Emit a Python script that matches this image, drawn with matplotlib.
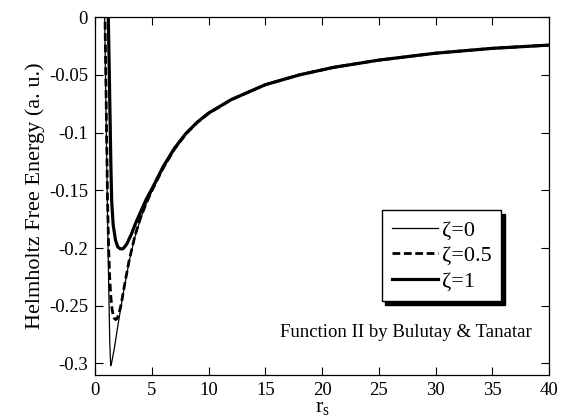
import matplotlib
matplotlib.use("Agg")
import matplotlib.pyplot as plt

plt.rcParams["font.family"] = ["Liberation Serif", "DejaVu Serif"]
plt.rcParams["mathtext.fontset"] = "custom"
plt.rcParams["mathtext.rm"] = "Liberation Serif"
plt.rcParams["axes.unicode_minus"] = False

# values (rs, free energy in a.u.)
rs_z0 = [0.80, 0.85, 0.90, 0.95, 1.00, 1.10, 1.20, 1.30, 1.38, 1.45, 1.55, 1.70,
         2.00, 2.30, 2.60, 3.00, 3.50, 4.00, 4.50, 5.00, 6.00, 7.00, 8.00, 9.00,
         10.0, 12.0, 15.0, 18.0, 21.0, 25.0, 30.0, 35.0, 40.0]
f_z0 = [0.040, 0.000, -0.035, -0.070, -0.105, -0.170, -0.230, -0.282, -0.302,
        -0.300, -0.295, -0.287, -0.268, -0.250, -0.233, -0.212, -0.191, -0.175,
        -0.162, -0.151, -0.131, -0.1145, -0.1015, -0.0915, -0.0835, -0.0715,
        -0.0585, -0.0500, -0.0435, -0.0372, -0.0312, -0.0270, -0.0242]

rs_z05 = [0.83, 0.88, 0.95, 1.00, 1.10, 1.20, 1.30, 1.40, 1.50, 1.60, 1.70, 1.82,
          1.95, 2.10, 2.30, 2.60, 3.00, 3.50, 4.00, 4.50, 5.00, 6.00, 7.00, 8.00,
          9.00, 10.0, 12.0, 15.0, 18.0, 21.0, 25.0, 30.0, 35.0, 40.0]
f_z05 = [0.040, 0.000, -0.050, -0.085, -0.158, -0.200, -0.227, -0.243, -0.253,
         -0.258, -0.261, -0.262, -0.261, -0.257, -0.249, -0.232, -0.211, -0.190,
         -0.174, -0.1615, -0.1505, -0.1308, -0.1143, -0.1013, -0.0913, -0.0834,
         -0.0715, -0.0585, -0.0500, -0.0435, -0.0372, -0.0312, -0.0270, -0.0242]

rs_z1 = [1.12, 1.17, 1.25, 1.33, 1.40, 1.47, 1.60, 1.80, 2.00, 2.20, 2.35, 2.50,
         2.80, 3.20, 3.60, 4.00, 4.50, 5.00, 6.00, 7.00, 8.00, 9.00, 10.0, 12.0,
         15.0, 18.0, 21.0, 25.0, 30.0, 35.0, 40.0]
f_z1 = [0.030, 0.000, -0.045, -0.090, -0.130, -0.160, -0.180, -0.193, -0.199,
        -0.2005, -0.2008, -0.2003, -0.1965, -0.188, -0.178, -0.169, -0.158,
        -0.149, -0.1295, -0.1135, -0.1008, -0.0910, -0.0831, -0.0714, -0.0585,
        -0.0500, -0.0435, -0.0372, -0.0312, -0.0270, -0.0242]

xticks = [0, 5, 10, 15, 20, 25, 30, 35, 40]
yticks = [0, -0.05, -0.1, -0.15, -0.2, -0.25, -0.3]
ytick_labels = ["0", "-0.05", "-0.1", "-0.15", "-0.2", "-0.25", "-0.3"]

fig = plt.figure(figsize=(5.69, 4.19), dpi=100)
ax = fig.add_axes([0.167, 0.105, 0.798, 0.854])

ax.plot(rs_z0, f_z0, color="black", lw=0.9, label="ζ=0")
ax.plot(rs_z05, f_z05, color="black", lw=2.0, dashes=(2.8, 1.3), label="ζ=0.5")
ax.plot(rs_z1, f_z1, color="black", lw=2.3, label="ζ=1")

ax.set_xlim(0, 40)
ax.set_ylim(-0.31, 0)
ax.set_xticks(xticks)
ax.set_xticklabels([str(v) for v in xticks])
ax.set_yticks(yticks)
ax.set_yticklabels(ytick_labels)
ax.tick_params(direction="in", length=6, width=0.8, top=True, right=True,
               labelsize=13.5, pad=5)
for s in ax.spines.values():
    s.set_linewidth(0.9)

ax.set_xlabel(r"r$_{\mathrm{s}}$", fontsize=16, labelpad=0)
ax.set_ylabel("Helmholtz Free Energy (a. u.)", fontsize=16, labelpad=3)

ax.text(38.5, -0.273, "Function II by Bulutay & Tanatar", ha="right",
        va="center", fontsize=13.5)

leg = ax.legend(loc="upper left", bbox_to_anchor=(0.631, 0.461), fontsize=16,
                frameon=True, fancybox=False, edgecolor="black",
                shadow={"color": "black", "alpha": 1.0, "ox": 2.5, "oy": -2.5},
                handlelength=2.1, handletextpad=0.15, labelspacing=0.22,
                borderpad=0.45, borderaxespad=0)
leg.get_frame().set_linewidth(1.0)

fig.savefig("out.png", dpi=100)
